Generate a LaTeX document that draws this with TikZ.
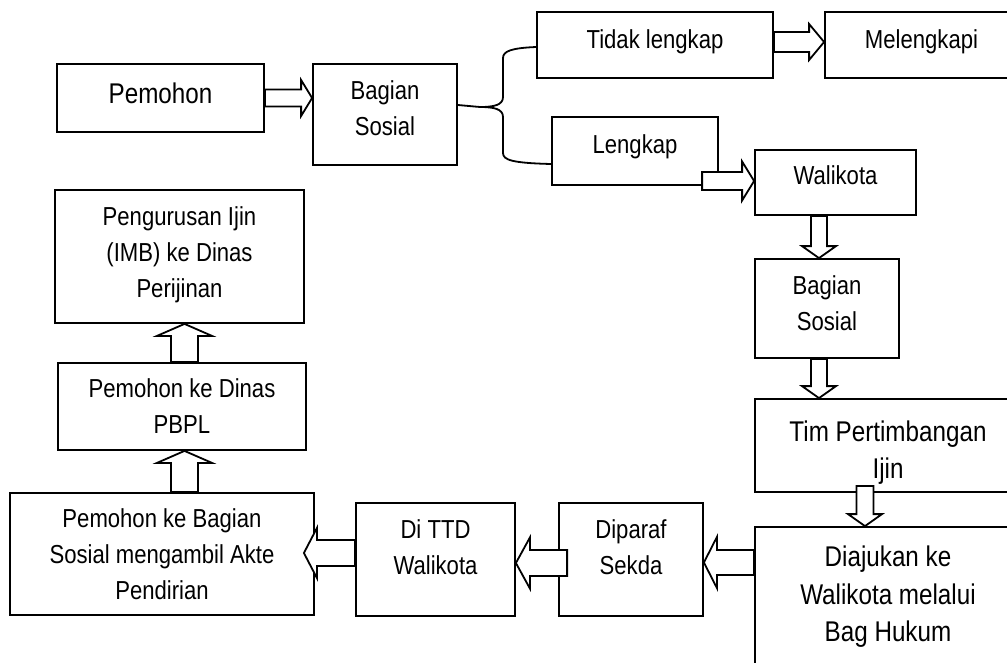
\documentclass[tikz,border=0pt]{standalone}
\usepackage{fontspec}
\setmainfont[FakeStretch=0.85]{Liberation Sans}
\usepackage{tikz}
\usetikzlibrary{calc,positioning}
\tikzstyle{box} = [draw,line width=1.8pt,rectangle,inner sep=0pt]
\tikzstyle{txt} = [align=center,inner sep=0pt,font=\fontsize{26}{36}\selectfont]
\tikzstyle{bigtxt} = [align=center,inner sep=0pt,font=\fontsize{28.5}{37.5}\selectfont]
\tikzstyle{fatarrow} = [draw,fill=white,line width=1.8pt,line join=miter]
\tikzstyle{forkline} = [line width=1.8pt]

\newcommand{\blockarrow}[5]{%
  \coordinate (ba-s) at (#4);
  \coordinate (ba-t) at (#5);
  \coordinate (ba-h) at ($(ba-t)!#3!(ba-s)$);
  \draw[fatarrow] ($(ba-s)!#1!90:(ba-t)$) -- ($(ba-h)!#1!90:(ba-t)$) -- ($(ba-h)!#2!90:(ba-t)$) -- (ba-t)
    -- ($(ba-h)!#2!-90:(ba-t)$) -- ($(ba-h)!#1!-90:(ba-t)$) -- ($(ba-s)!#1!-90:(ba-t)$) -- cycle;}

\begin{document}
\begin{tikzpicture}[x=1pt,y=-1pt]
        \useasboundingbox (0,0) rectangle (1007,662);
        \clip (0,0) rectangle (1007,662);

        \node[box,minimum width=207,minimum height=68] (pem) at (160.5,98) {};
        \node[box,minimum width=144,minimum height=101] (bs1) at (385,114.5) {};
        \node[box,minimum width=236,minimum height=66] (tdk) at (655,45) {};
        \node[box,minimum width=193,minimum height=66] (mel) at (921.5,45) {};
        \node[box,minimum width=166,minimum height=68] (lkp) at (635,151) {};
        \node[box,minimum width=161,minimum height=65] (wk) at (835.5,182.5) {};
        \node[box,minimum width=144,minimum height=99] (bs2) at (827,308.5) {};
        \node[box,minimum width=266,minimum height=93] (tim) at (888,445.5) {};
        \node[box,minimum width=266,minimum height=173] (dia) at (888,613.5) {};
        \node[box,minimum width=144,minimum height=113] (dip) at (631,559.5) {};
        \node[box,minimum width=159,minimum height=113] (dtt) at (435.5,559.5) {};
        \node[box,minimum width=304,minimum height=122] (pbs) at (162,554) {};
        \node[box,minimum width=248,minimum height=87] (pbpl) at (182,406.5) {};
        \node[box,minimum width=249,minimum height=133] (peng) at (179.5,256.5) {};

        \node[bigtxt] (pem-t) at ($(pem)+(0,-5)$) {Pemohon};
        \node[txt] (bs1-t) at ($(bs1)+(0,-6)$) {Bagian\\Sosial};
        \node[txt] (tdk-t) at ($(tdk)+(0,-3)$) {Tidak lengkap};
        \node[txt] (mel-t) at ($(mel)+(0,-3.5)$) {Melengkapi};
        \node[txt] (lkp-t) at ($(lkp)+(0,-4)$) {Lengkap};
        \node[txt] (wk-t) at ($(wk)+(0,-7)$) {Walikota};
        \node[txt] (bs2-t) at ($(bs2)+(0,-5)$) {Bagian\\Sosial};
        \node[bigtxt] (tim-t) at ($(tim)+(0,7)$) {Tim Pertimbangan\\Ijin};
        \node[bigtxt] (dia-t) at ($(dia)+(0,-16.5)$) {Diajukan ke\\Walikota melalui\\Bag Hukum};
        \node[txt] (dip-t) at ($(dip)+(0,-12.5)$) {Diparaf\\Sekda};
        \node[txt] (dtt-t) at ($(dtt)+(0,-12.5)$) {Di TTD\\Walikota};
        \node[txt] (pbs-t) at (pbs) {Pemohon ke Bagian\\Sosial mengambil Akte\\Pendirian};
        \node[txt] (pbpl-t) at (pbpl) {Pemohon ke Dinas\\PBPL};
        \node[txt] (peng-t) at ($(peng)+(0,-1.5)$) {Pengurusan Ijin\\(IMB) ke Dinas\\Perijinan};

        \coordinate (fk) at (480,107);
        \draw[forkline] ($(bs1.east)+(0,-9.5)$) -- (fk) .. controls (494,107) and (503,105) .. (503,97)
            -- (503,58) .. controls (503,51) and (512,48) .. ($(tdk.west)+(0,2)$);
        \draw[forkline] (fk) .. controls (494,107) and (503,109) .. (503,117)
            -- (503,153) .. controls (503,160) and (512,163) .. ($(lkp.west)+(0,13)$);

        \blockarrow{8.5pt}{18pt}{11pt}{pem.east}{bs1.west |- pem.east}
        \blockarrow{10pt}{18pt}{15pt}{$(tdk.east)+(0,-3)$}{$(tdk.east -| mel.west)+(0,-3)$}
        \blockarrow{9pt}{19.5pt}{12pt}{$(wk.west)+(-52,-1.5)$}{$(wk.west)+(0,-1.5)$}
        \blockarrow{8pt}{17pt}{12pt}{$(wk.south)+(-16.5,0)$}{$(wk.south |- bs2.north)+(-16.5,0)$}
        \blockarrow{8pt}{17pt}{12pt}{$(bs2.south)+(-8,0)$}{$(bs2.south |- tim.north)+(-8,0)$}
        \blockarrow{8.5pt}{17pt}{12pt}{$(tim.south)+(-23,-7)$}{$(tim.south |- dia.north)+(-23,0)$}
        \blockarrow{12.5pt}{25.5pt}{13pt}{$(dia.west |- dip.east)+(0,3)$}{$(dip.east)+(0,3)$}
        \blockarrow{13pt}{25.5pt}{14pt}{$(dip.west)+(9,3.5)$}{$(dtt.east)+(0,3.5)$}
        \blockarrow{13pt}{25pt}{13pt}{$(dtt.west)+(0,-6.5)$}{$(dtt.west -| pbs.east)+(-11,-6.5)$}
        \blockarrow{13.5pt}{27.5pt}{12pt}{$(pbs.north -| pbpl.south)+(2.5,0)$}{$(pbpl.south)+(2.5,0)$}
        \blockarrow{13.5pt}{27.5pt}{12pt}{$(pbpl.north)+(2.5,0)$}{$(pbpl.north |- peng.south)+(2.5,0)$}
\end{tikzpicture}
\end{document}
